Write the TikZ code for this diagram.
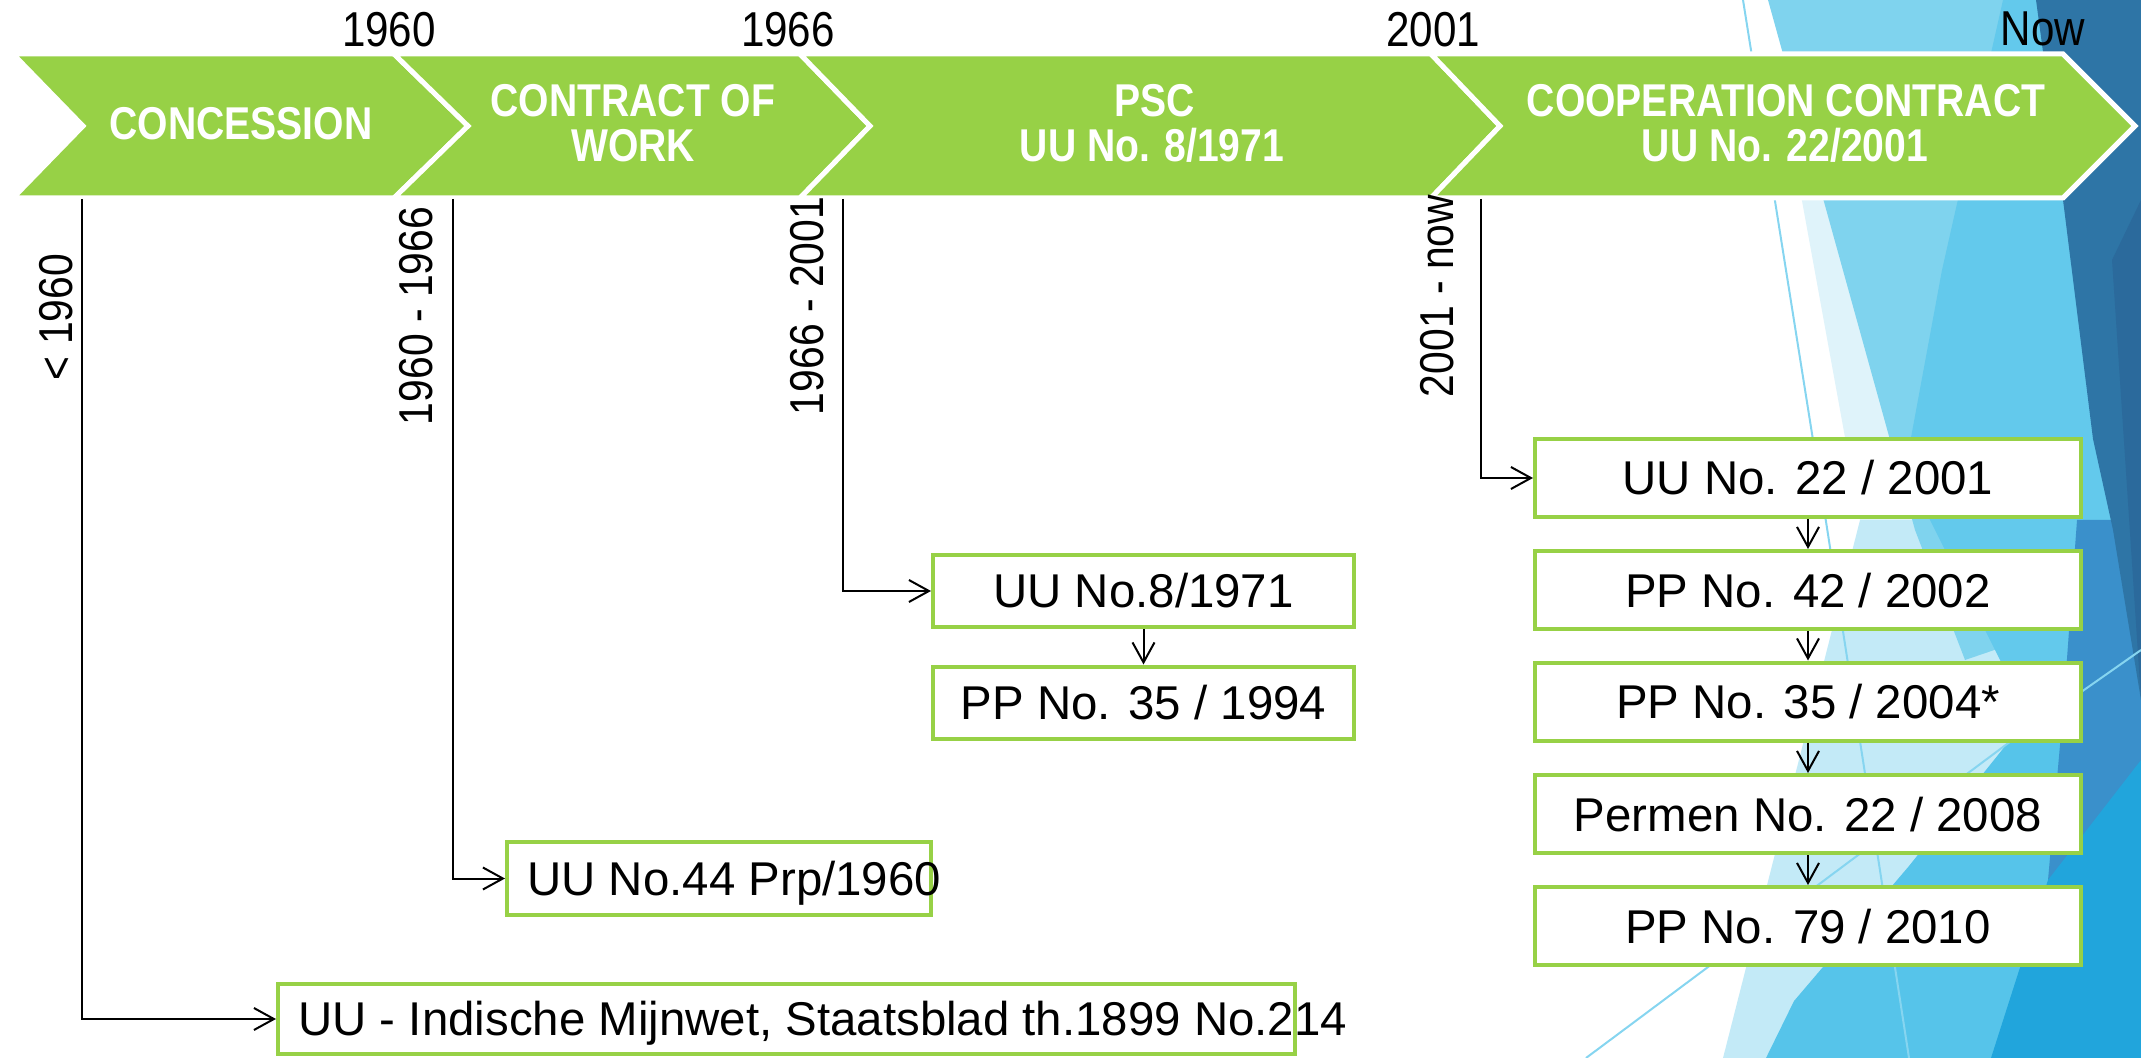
\documentclass[tikz,border=0pt]{standalone}
\usepackage{fontspec}
\setmainfont{Liberation Sans}
\newfontfamily\yearfont[FakeStretch=0.86]{Liberation Sans}
\newfontfamily\chevfont[FakeStretch=0.85]{Liberation Sans}
\usetikzlibrary{arrows.meta}
\definecolor{grn}{HTML}{97D146}
\definecolor{bgdark}{HTML}{2E75A6}
\definecolor{bgdarker}{HTML}{2B6A9C}
\definecolor{bgmed}{HTML}{3A90CB}
\definecolor{bgbright}{HTML}{21A5DC}
\definecolor{bgcyan}{HTML}{63C9EC}
\definecolor{bglight}{HTML}{7FD3EE}
\definecolor{bglight2}{HTML}{56C4EA}
\definecolor{bgpale}{HTML}{C3EAF7}
\definecolor{bgpaler}{HTML}{DFF3FA}
\definecolor{bgline}{HTML}{86D5F0}
\tikzset{
  chev/.style={fill=grn, draw=white, line width=2.5pt, line join=miter},
  yr/.style={font=\yearfont\fontsize{24.5}{28}\selectfont, inner sep=0pt, anchor=base},
  ctext/.style={text=white, font=\chevfont\bfseries\fontsize{23}{27}\selectfont, inner sep=0pt, anchor=base},
  per/.style={rotate=90, anchor=base, inner sep=0pt, font=\yearfont\fontsize{23.75}{27}\selectfont},
  lawbox/.style={draw=grn, line width=2pt, fill=white, rectangle, inner sep=0pt,
    font=\fontsize{23.7}{27}\selectfont, text height=17pt, text depth=0pt},
  rbox/.style={lawbox, minimum width=273pt, minimum height=39pt},
  pbox/.style={lawbox, minimum width=210.5pt, minimum height=36pt},
  lawtext/.style={inner sep=0pt, anchor=west, font=\fontsize{23.7}{27}\selectfont, text height=17pt, text depth=0pt},
  conn/.style={line width=1pt, -{Straight Barb[length=10pt,width=11pt,line width=1pt]}},
}
\begin{document}
\begin{tikzpicture}[x=0.5pt,y=-0.5pt]
\useasboundingbox (0,0) rectangle (2141,1058);
\clip (0,0) rectangle (2141,1058);
% background facets
\fill[bgpale] (1860,520) -- (1723,1058) -- (2141,1058) -- (2141,520) -- cycle;
\fill[bgpaler] (1800,190) -- (1860,520) -- (1990,520) -- (1990,190) -- cycle;
\fill[bglight] (1768,0) -- (2141,0) -- (2141,600) -- (1965,660) -- (1915,530) -- cycle;
\fill[bgcyan] (2003,0) -- (2141,0) -- (2141,760) -- (2050,760) -- (1905,470) -- (1942,270) -- cycle;
\fill[bglight2] (2010,740) -- (2141,740) -- (2141,1058) -- (1766,1058) -- (1794,1001) -- (1909,866) -- cycle;
\fill[bgmed] (2077,520) -- (2141,520) -- (2141,820) -- (2048,880) -- (2064,700) -- cycle;
\fill[bgbright] (2141,760) -- (2141,1058) -- (1991,1058) -- (2048,880) -- cycle;
\fill[bgdark] (2036,0) -- (2141,0) -- (2141,700) -- (2113,530) -- (2093,439) -- (2063,200) -- cycle;
\fill[bgdarker] (2112,260) -- (2141,200) -- (2141,700) -- cycle;
\draw[bgline, line width=1pt] (1743,0) -- (1827,528) -- (1909,1058);
\draw[bgline, line width=1pt] (1586,1058) -- (2007,744) -- (2141,650);
% chevrons
\draw[chev] (13,54) -- (394,54) -- (468,126) -- (394,198) -- (13,198) -- (83,126) -- cycle;
\draw[chev] (394,54) -- (800,54) -- (870,126) -- (800,198) -- (394,198) -- (468,126) -- cycle;
\draw[chev] (800,54) -- (1431,54) -- (1500,126) -- (1431,198) -- (800,198) -- (870,126) -- cycle;
\draw[chev] (1431,54) -- (2063,54) -- (2135,126) -- (2063,198) -- (1431,198) -- (1500,126) -- cycle;
\node[ctext] (t1) at (241,140) {CONCESSION};
\node[ctext] (t2a) at (633,117) {CONTRACT OF};
\node[ctext] (t2b) at (633,162) {WORK};
\node[ctext] (t3a) at (1155,117) {PSC};
\node[ctext] (t3b) at (1152,162) {UU No. 8/1971};
\node[ctext] (t4a) at (1786,117) {COOPERATION CONTRACT};
\node[ctext] (t4b) at (1785,162) {UU No. 22/2001};
% years
\node[yr] (y1) at (389,47) {1960};
\node[yr] (y2) at (788,47) {1966};
\node[yr] (y3) at (1433,47) {2001};
\node[yr] (y4) at (2043,46) {Now};
% periods
\node[per] (p1) at (72,317) {< 1960};
\node[per] (p2) at (432,316) {1960 - 1966};
\node[per] (p3) at (823,306) {1966 - 2001};
\node[per] (p4) at (1453,296) {2001 - now};
% boxes
\node[lawbox, minimum width=508.5pt, minimum height=35pt] (b1) at (786.5,1019) {};
\node[lawtext] (b1t) at (298,1018) {UU - Indische Mijnwet, Staatsblad th.1899 No.214};
\node[lawbox, minimum width=212pt, minimum height=36.5pt] (b2) at (719,878.5) {};
\node[lawtext] (b2t) at (527,878.5) {UU No.44 Prp/1960};
\node[pbox] (c1) at (1143.5,591) {UU No.8/1971};
\node[pbox] (c2) at (1143.5,702.5) {PP No. 35 / 1994};
\node[rbox] (r1) at (1808,478) {UU No. 22 / 2001};
\node[rbox] (r2) at (1808,590) {PP No. 42 / 2002};
\node[rbox] (r3) at (1808,701.5) {PP No. 35 / 2004*};
\node[rbox] (r4) at (1808,814) {Permen No. 22 / 2008};
\node[rbox] (r5) at (1808,926) {PP No. 79 / 2010};
% connectors
\coordinate (s1) at (81.5,199);
\coordinate (s2) at (453,199);
\coordinate (s3) at (843,199);
\coordinate (s4) at (1481,199);
\draw[conn] (s1) |- (b1.west);
\draw[conn] (s2) |- (b2.west);
\draw[conn] (s3) |- (c1.west);
\draw[conn] (s4) |- (r1.west);
\draw[conn] (c1.south) -- (c2.north);
\draw[conn] (r1.south) -- (r2.north);
\draw[conn] (r2.south) -- (r3.north);
\draw[conn] (r3.south) -- (r4.north);
\draw[conn] (r4.south) -- (r5.north);
\end{tikzpicture}
\end{document}
